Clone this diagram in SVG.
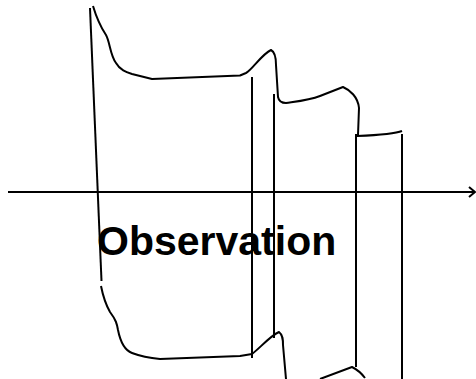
<svg xmlns="http://www.w3.org/2000/svg" width="476" height="379" viewBox="0 0 476 379">
<style>
.l{fill:none;stroke:#000;stroke-width:2;stroke-linecap:butt;stroke-linejoin:round}
.t{font-family:"Liberation Sans",Arial,sans-serif;font-weight:bold;font-size:41px;fill:#000}
</style>
<rect width="476" height="379" fill="#fff"/>
<g id="axis">
<line class="l" x1="8" y1="192" x2="474" y2="192"/>
<polyline class="l" points="469,187 475,192 469,197"/>
</g>
<g id="profile">
<line class="l" x1="90" y1="8" x2="101.5" y2="281"/>
<path class="l" d="M93,6 C96,16 100,26 106,35 C110,42 110,55 116,63 C120,70 126,72 132,74 L152,79 L240,75.5 L246,73 C252,70 262,54 271,50 C275,52 276,58 276,65 L278,97 C279,102 283,103 286,103 C300,101 310,100 320,96 L343,87 C350,90 358,97 359,108 L358,135"/>
<path class="l" d="M357,136 C380,135 395,134 402,131"/>
<line class="l" x1="252" y1="77" x2="252" y2="358"/>
<line class="l" x1="274" y1="94" x2="274" y2="338"/>
<line class="l" x1="356" y1="134" x2="356" y2="367"/>
<line class="l" x1="402" y1="134" x2="402" y2="379"/>
<path class="l" d="M101,286 C103,296 106,305 110,312 C116,320 117,324 118,330 C120,340 124,350 132,353 C140,356 150,358 160,359 L240,356 L252,354 C260,348 270,336 279,332 C283,335 283,340 283,345 L286,379"/>
<path class="l" d="M320,379 L352,367 C358,370 362,374 365,378"/>
</g>
<g id="label">
<text class="t" x="97" y="255">Observation</text>
</g>
</svg>
